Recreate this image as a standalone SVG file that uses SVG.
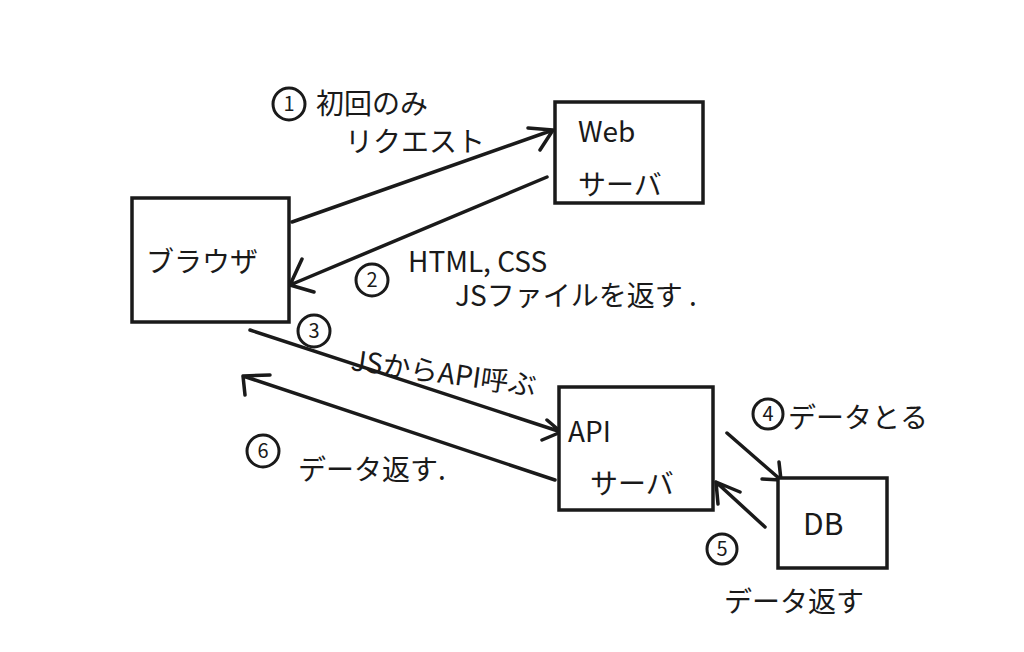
<svg xmlns="http://www.w3.org/2000/svg" width="1024" height="652" viewBox="0 0 1024 652">
<style>
.box{fill:#fff;stroke:#1a1a1a;stroke-width:3.5}
.ln{fill:none;stroke:#1a1a1a;stroke-width:3.5;stroke-linecap:round;stroke-linejoin:round}
.num{fill:none;stroke:#1a1a1a;stroke-width:3}
text{font-family:"Noto Sans CJK JP","Noto Sans",sans-serif;fill:#1a1a1a}
.t{font-size:28px}
.n{font-size:20px;text-anchor:middle}
</style>
<rect width="1024" height="652" fill="#fff"/>
<g id="connectors">
<path class="ln" d="M292,222 L553,130 M528,128 L553,130 L540,150"/>
<path class="ln" d="M547,177 L290,285 M302,259 L290,285 L314,292"/>
<path class="ln" d="M250,330 L561,432 M547,420 L561,432 L542,440"/>
<path class="ln" d="M555,480 L243,376 M243,376 L270,375 M243,376 L245,395"/>
<path class="ln" d="M727,433 L781,480 M779,462 L781,480 L762,479"/>
<path class="ln" d="M765,527 L716,482 M716,482 L740,492 M716,482 L718,504"/>
</g>
<g id="browser">
<rect class="box" x="132" y="198" width="157" height="124"/>
<text class="t" x="146" y="272">ブラウザ</text>
</g>
<g id="web">
<rect class="box" x="555" y="102" width="148" height="101"/>
<text class="t" x="578" y="142">Web</text>
<text class="t" x="578" y="195">サーバ</text>
</g>
<g id="api">
<rect class="box" x="559" y="387" width="154" height="123"/>
<text class="t" x="568" y="442">API</text>
<text class="t" x="590" y="494">サーバ</text>
</g>
<g id="db">
<rect class="box" x="778" y="478" width="109" height="90"/>
<text class="t" x="803" y="535" style="font-size:30px">DB</text>
</g>
<g id="labels">
<circle class="num" cx="289" cy="104" r="16"/><text class="n" x="289" y="111">1</text>
<text class="t" x="316" y="114">初回のみ</text>
<text class="t" x="345" y="152">リクエスト</text>
<circle class="num" cx="372" cy="280" r="16"/><text class="n" x="372" y="287">2</text>
<text class="t" x="408" y="272">HTML, CSS</text>
<text class="t" x="455" y="306">JSファイルを返す .</text>
<circle class="num" cx="314" cy="331" r="16"/><text class="n" x="314" y="338">3</text>
<text class="t" x="350" y="370" transform="rotate(8 350 370)">JSからAPI呼ぶ</text>
<circle class="num" cx="263" cy="451" r="16"/><text class="n" x="263" y="458">6</text>
<text class="t" x="298" y="480">データ返す.</text>
<circle class="num" cx="768" cy="414" r="15"/><text class="n" x="768" y="421">4</text>
<text class="t" x="788" y="428">データとる</text>
<circle class="num" cx="722" cy="549" r="15"/><text class="n" x="722" y="556">5</text>
<text class="t" x="724" y="612">データ返す</text>
</g>
</svg>
